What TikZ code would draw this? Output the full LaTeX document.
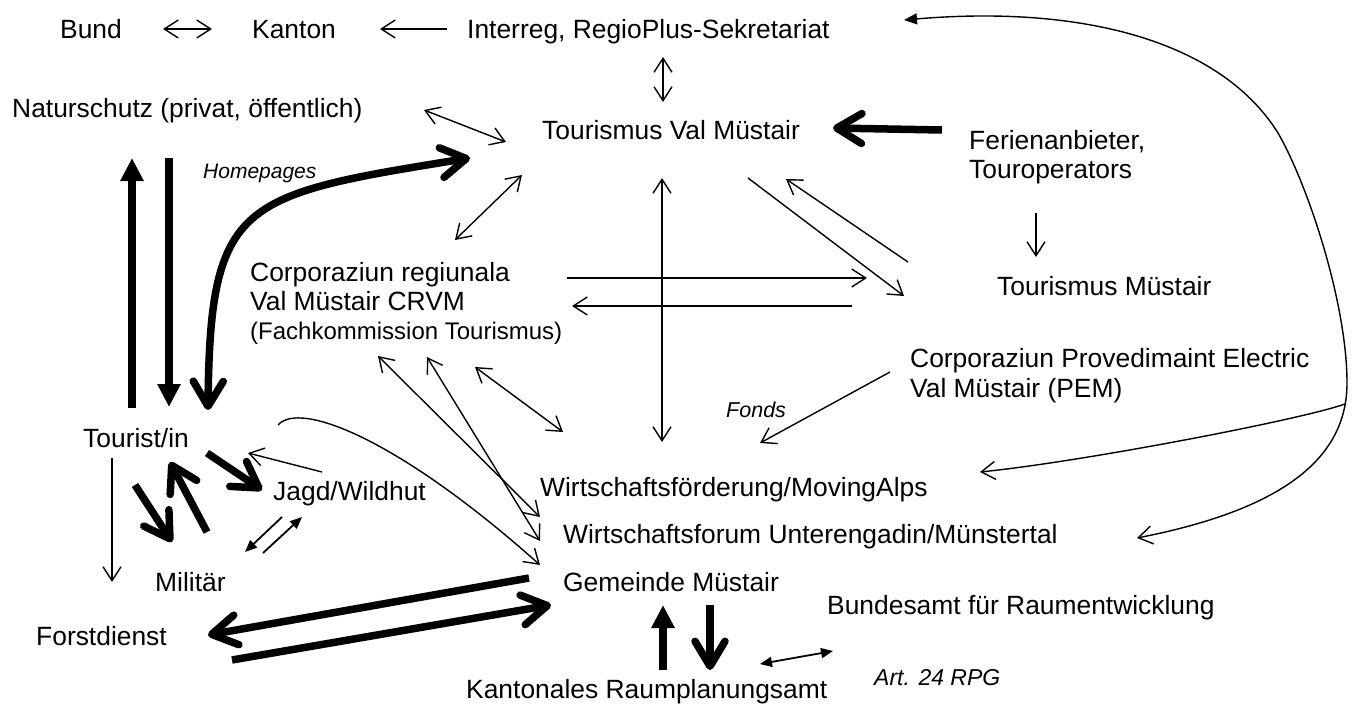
\documentclass[tikz,border=0pt]{standalone}
\usepackage{fontspec}
\setmainfont{Liberation Sans}
\usetikzlibrary{arrows.meta,calc}
\begin{document}
\lineskiplimit=-50pt
\begin{tikzpicture}[x=1pt,y=-1pt,
  lbl/.style={inner sep=0pt, anchor=base west, font={\fontsize{26.4}{29}\selectfont}},
  mlbl/.style={inner sep=0pt, anchor=north west, align=left, font={\fontsize{26.4}{29}\selectfont}},
  ital/.style={inner sep=0pt, anchor=base west, font={\fontsize{21}{24}\selectfont\itshape}},
  thinA/.style={line width=1.4pt, -{Straight Barb[length=14pt,width=18pt]}},
  thinD/.style={line width=1.4pt, {Straight Barb[length=14pt,width=18pt]}-{Straight Barb[length=14pt,width=18pt]}},
  thickc/.style={line width=7.5pt, -{Straight Barb[length=25pt,width=30pt,round]}},
  thickcD/.style={line width=7.5pt, {Straight Barb[length=25pt,width=30pt,round]}-{Straight Barb[length=25pt,width=30pt,round]}},
  thickt/.style={line width=7.5pt, -{Triangle[length=23pt,width=22pt]}},
  smallf/.style={line width=1.8pt, -{Triangle[length=12pt,width=10pt]}},
  smallfD/.style={line width=1.8pt, {Triangle[length=12pt,width=10pt]}-{Triangle[length=12pt,width=10pt]}},
  curveA/.style={line width=1.4pt, {Triangle[length=13pt,width=11pt]}-{Straight Barb[length=14pt,width=18pt]}}
]
\useasboundingbox (0,0) rectangle (1353,704);
% nodes
\node[lbl] (bund) at (60,38) {Bund};
\node[lbl] (kanton) at (252,38) {Kanton};
\node[lbl] (interreg) at (467,38) {Interreg, RegioPlus-Sekretariat};
\node[lbl] (natur) at (12,117) {Naturschutz (privat, öffentlich)};
\node[lbl] (tvm) at (542,139) {Tourismus Val Müstair};
\node[mlbl] (ferien) at (969,130) {Ferienanbieter,\\Touroperators};
\node[lbl] (tm) at (997,295) {Tourismus Müstair};
\node[mlbl] (crvm) at (250,262) {Corporaziun regiunala\\Val Müstair CRVM\\{\fontsize{24}{28}\selectfont(Fachkommission Tourismus)}};
\node[mlbl, font={\fontsize{26.4}{30.5}\selectfont}] (pem) at (910,348) {Corporaziun Provedimaint Electric\\Val Müstair (PEM)};
\node[lbl] (wf) at (540,496) {Wirtschaftsförderung/MovingAlps};
\node[lbl] (wfo) at (563,543) {Wirtschaftsforum Unterengadin/Münstertal};
\node[lbl] (gem) at (563,591) {Gemeinde Müstair};
\node[lbl] (bfr) at (827,614) {Bundesamt für Raumentwicklung};
\node[lbl] (krp) at (466,698) {Kantonales Raumplanungsamt};
\node[ital, font={\fontsize{23}{26}\selectfont\itshape}] (art) at (874,685) {Art. 24 RPG};
\node[lbl] (tourist) at (83,447) {Tourist/in};
\node[lbl] (jagd) at (273,500) {Jagd/Wildhut};
\node[lbl] (mil) at (155,591) {Militär};
\node[lbl] (forst) at (36,645) {Forstdienst};
\node[ital] (home) at (203,178) {Homepages};
\node[ital, font={\fontsize{21.5}{24}\selectfont\itshape}] (fonds) at (726,417) {Fonds};
\coordinate (branch) at (1345,404);
% top row
\draw[thinD] ($(bund.base west)+(103,-9)$) -- ($(kanton.base west)+(-40,-9)$);
\draw[thinA] ($(interreg.base west)+(-20,-9)$) -- ($(kanton.base west)+(128,-9)$);
\draw[thinD] ($(interreg.base west)+(196,19)$) -- ($(tvm.base west)+(121,-37)$);
\draw[thinD] ($(natur.base west)+(412,-7)$) -- ($(tvm.base west)+(-36,3)$);
\draw[thickc] ($(ferien.north west)+(-27,0)$) -- ($(tvm.base west)+(291,-11)$);
\draw[thinA] ($(ferien.north west)+(67,83)$) -- ($(tm.base west)+(39,-38)$);
\draw[thinA] ($(tvm.base west)+(206,39)$) -- ($(tm.base west)+(-93,1)$);
\draw[thinA] ($(tm.base west)+(-89,-33)$) -- ($(tvm.base west)+(244,40)$);
\draw[thinD] ($(tvm.base west)+(120,39)$) -- ($(wf.base west)+(122,-54)$);
\draw[thinA] ($(crvm.north west)+(317,16)$) -- ($(tm.base west)+(-130,-17)$);
\draw[thinA] ($(tm.base west)+(-145,11)$) -- ($(crvm.north west)+(322,44)$);
\draw[thinD] ($(crvm.north west)+(205,-22)$) -- ($(tvm.base west)+(-20,36)$);
% thick curve tourist <-> tvm
\draw[thickcD] ($(tourist.base west)+(125,-37)$) .. controls (210,200) and (240,195) .. ($(tvm.base west)+(-72,19)$);
% naturschutz <-> tourist
\draw[thickt] ($(tourist.base west)+(49,-39)$) -- ($(natur.base west)+(120,41)$);
\draw[thickt] ($(natur.base west)+(157,41)$) -- ($(tourist.base west)+(86,-40)$);
% tourist cluster
\draw[thickc] ($(tourist.base west)+(124,6)$) -- ($(jagd.base west)+(-11,-10)$);
\draw[thickc] ($(mil.base west)+(52,-59)$) -- ($(tourist.base west)+(87,15)$);
\draw[thickc] ($(tourist.base west)+(52,38)$) -- ($(mil.base west)+(17,-49)$);
\draw[thinA] ($(tourist.base west)+(29,11)$) -- ($(forst.base west)+(76,-63)$);
\draw[thinA] ($(jagd.base west)+(49,-28)$) -- ($(tourist.base west)+(165,6)$);
\draw[smallf] ($(jagd.base west)+(9,17)$) -- ($(mil.base west)+(90,-39)$);
\draw[smallf] ($(mil.base west)+(108,-38)$) -- ($(jagd.base west)+(29,17)$);
% forst <-> gemeinde
\draw[thickc] ($(gem.base west)+(-34,-13)$) -- ($(forst.base west)+(172,-10)$);
\draw[thickc] ($(forst.base west)+(196,15)$) -- ($(gem.base west)+(-12,14)$);
% gemeinde <-> kantonales
\draw[thickt] ($(krp.base west)+(197,-28)$) -- ($(gem.base west)+(100,14)$);
\draw[thickc] ($(gem.base west)+(147,14)$) -- ($(krp.base west)+(244,-28)$);
\draw[smallfD] ($(krp.base west)+(294,-34)$) -- ($(bfr.base west)+(6,37)$);
% fonds
\draw[thinA] ($(pem.north west)+(-20,24)$) -- ($(wf.base west)+(220,-53)$);
% crvm lines
\draw[thinD] ($(crvm.north west)+(225,105)$) -- ($(wf.base west)+(23,-64)$);
\draw[thinD] ($(crvm.north west)+(128,94)$) -- ($(wf.base west)+(0,21)$);
\draw[thinD] ($(crvm.north west)+(177,95)$) -- ($(wfo.base west)+(-23,-2)$);
\draw[thinA] ($(jagd.base west)+(5,-75)$) .. controls (300,400) and (400,440) .. ($(gem.base west)+(-23,-26)$);
% big right curves
\draw[curveA] ($(interreg.base west)+(437,-18)$) .. controls (1080,5) and (1220,40) .. (1278,133) .. controls (1308,185) and (1347,303) .. (1347,383) .. controls (1347,460) and (1280,510) .. ($(wfo.base west)+(574,-5)$);
\draw[thinA] (branch) .. controls (1300,420) and (1080,462) .. ($(wf.base west)+(440,-24)$);
\end{tikzpicture}
\end{document}
